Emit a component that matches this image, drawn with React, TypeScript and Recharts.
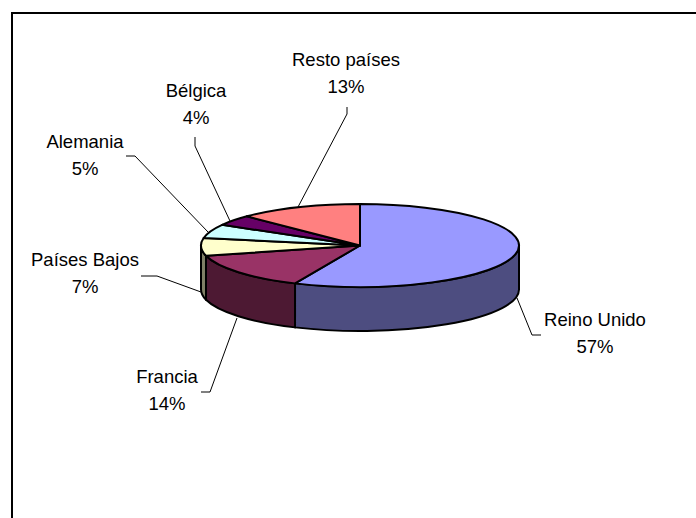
import { PieChart, Pie } from 'recharts';

const countries = ['Reino Unido', 'Francia', 'Países Bajos', 'Alemania', 'Bélgica', 'Resto países'];
const shares = [56.7, 14.3, 6.9, 5.4, 4.1, 12.6];
const topColors = ['#9999FF', '#993366', '#FFFFCC', '#CCFFFF', '#660066', '#FF8080'];
const sideColors = ['#4D4D80', '#4D1933', '#808066', '#668080', '#330033', '#804040'];

// label centre x, first baseline, then the leader line points
const callouts = [
    { x: 595, y: 326, line: '517,298 532,335 541,335' },
    { x: 167, y: 383, line: '237,318 210,392 201,392' },
    { x: 85, y: 266, line: '201,292 157,276 141,276' },
    { x: 85, y: 148, line: '208,232 135,156 126,156' },
    { x: 196, y: 97, line: '230,221 195,146 195,137' },
    { x: 346, y: 66, line: '298,207 347,114 347,107' },
];

const tableData = countries.map((name, i) => ({
    name,
    value: shares[i],
    fill: topColors[i],
    side: sideColors[i],
}));

const SQUASH = 41.5 / 159;
const DEPTH = 44;

function Slice3D (props: any) {
    const { cx, cy, outerRadius: rx, startAngle, endAngle, fill, payload } = props;
    const ry = rx * SQUASH;
    const pt = (deg: number, dy = 0) => {
        const r = (deg * Math.PI) / 180;
        return `${cx + rx * Math.cos(r)} ${cy - ry * Math.sin(r) + dy}`;
    };
    const large = startAngle - endAngle > 180 ? 1 : 0;
    const top = `M${cx} ${cy} L${pt(startAngle)} A${rx} ${ry} 0 ${large} 1 ${pt(endAngle)} Z`;

    // only the front half of the rim shows a wall
    const a = Math.min(startAngle, 0);
    const b = Math.max(endAngle, -180);
    const wall = a > b
        ? `M${pt(a)} A${rx} ${ry} 0 0 1 ${pt(b)} L${pt(b, DEPTH)} A${rx} ${ry} 0 0 0 ${pt(a, DEPTH)} Z`
        : null;

    return (
        <g>
            {wall && <path d={wall} fill={payload.side} stroke="#000" strokeWidth={2} strokeLinejoin="round" />}
            <path d={top} fill={fill} stroke="#000" strokeWidth={2} strokeLinejoin="round" />
        </g>
    );
}

function Callout (props: any) {
    const { index, name, value } = props;
    const c = callouts[index];
    return (
        <g>
            <polyline points={c.line} fill="none" stroke="#000" strokeWidth={1} />
            <text x={c.x} y={c.y} textAnchor="middle" fill="#000" fontSize={18.5} fontFamily="Liberation Sans">
                {name}
            </text>
            <text x={c.x} y={c.y + 27} textAnchor="middle" fill="#000" fontSize={18.5} fontFamily="Liberation Sans">
                {`${Math.round(value)}%`}
            </text>
        </g>
    );
}

export default function App () {
    return (
        <div style={{ position: 'absolute', left: 0, top: 0, width: 696, height: 518, overflow: 'hidden', background: '#fff' }}>
            <div style={{ position: 'absolute', left: 11, top: 12, width: 700, height: 520, borderLeft: '2px solid #000', borderTop: '2px solid #000' }} />
            <div style={{ position: 'absolute', left: 0, top: 0 }}>
                <PieChart width={696} height={518} margin={{ top: 0, right: 0, bottom: 0, left: 0 }}>
                    <Pie
                        data={tableData}
                        dataKey="value"
                        nameKey="name"
                        cx={360}
                        cy={245.5}
                        outerRadius={159}
                        startAngle={90}
                        endAngle={-270}
                        shape={Slice3D}
                        label={Callout}
                        labelLine={false}
                        isAnimationActive={false}
                    />
                </PieChart>
            </div>
        </div>
    );
}
